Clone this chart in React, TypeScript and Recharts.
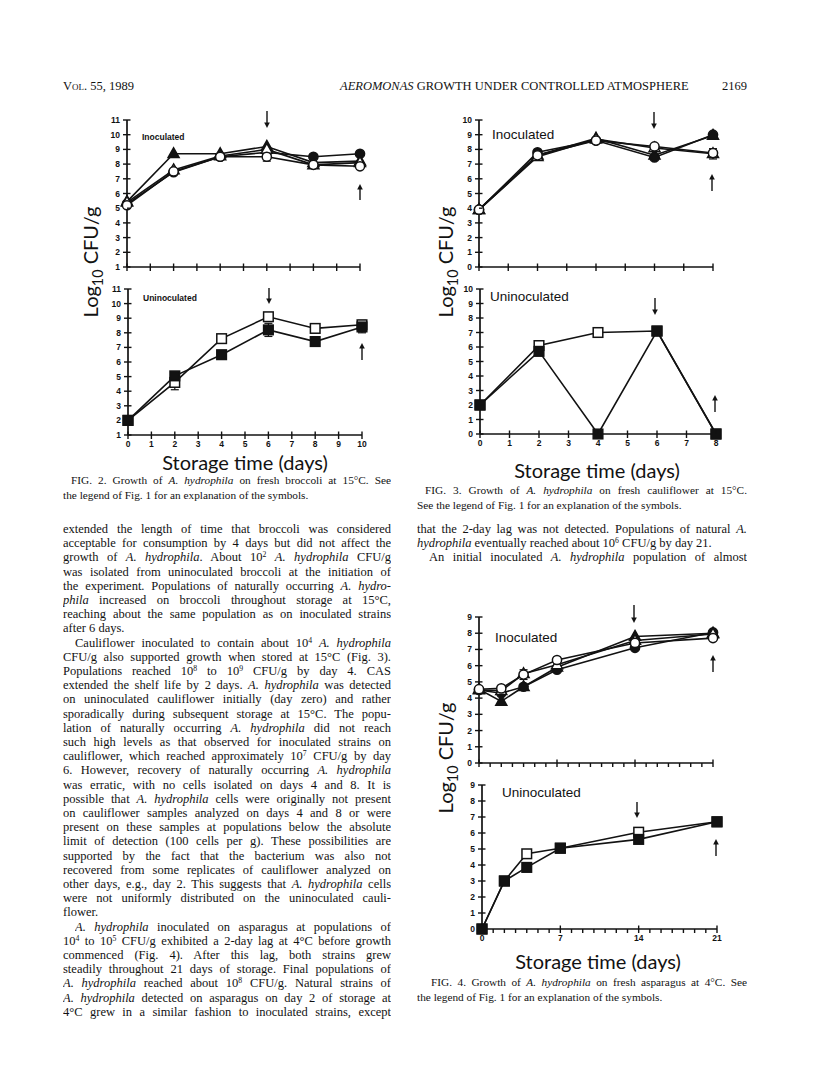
import React from 'react';
import { LineChart, Line, XAxis, YAxis, ErrorBar } from 'recharts';

// Fig. 2 broccoli, 15°C
const broccoliDays = [0, 2, 4, 6, 8, 10];
const broccoliFilledCircle = [5.3, 7.45, 8.5, 8.8, 8.5, 8.7];
const broccoliOpenCircle = [5.2, 7.5, 8.5, 8.5, 7.95, 7.85];
const broccoliOpenCircleErr = [0, 0, 0, 0.3, 0, 0];
const broccoliFilledTriangle = [5.45, 8.7, 8.7, 9.2, 8.1, 8.2];
const broccoliOpenTriangle = [5.4, 7.6, 8.55, 9.0, 7.95, 8.1];
const broccoliOpenSquare = [2.0, 4.6, 7.6, 9.1, 8.3, 8.55];
const broccoliOpenSquareErr = [0, 0.5, 0, 0, 0, 0.3];
const broccoliFilledSquare = [2.0, 5.05, 6.5, 8.2, 7.4, 8.4];
const broccoliFilledSquareErr = [0, 0, 0, 0.45, 0, 0.4];

// Fig. 3 cauliflower, 15°C
const cauliDays = [0, 2, 4, 6, 8];
const cauliFilledCircle = [3.9, 7.8, 8.6, 7.45, 9.0];
const cauliOpenCircle = [3.9, 7.6, 8.6, 8.2, 7.75];
const cauliFilledTriangle = [3.9, 7.6, 8.75, 7.6, 8.95];
const cauliOpenTriangle = [3.9, 7.5, 8.7, 8.1, 7.7];
const cauliOpenTriangleErr = [0, 0, 0, 0, 0.35];
const cauliOpenSquare = [2.0, 6.1, 7.0, 7.1, 0];
const cauliFilledSquare = [2.0, 5.7, 0, 7.1, 0];
const cauliFilledSquareErr = [0, 0.3, 0, 0, 0];

// Fig. 4 asparagus, 4°C
const asparDays = [0, 2, 4, 7, 14, 21];
const asparFilledTriangle = [4.55, 3.8, 4.7, 5.9, 7.8, 8.0];
const asparFilledCircle = [4.5, 4.3, 4.7, 5.75, 7.1, 8.05];
const asparOpenCircle = [4.55, 4.6, 5.45, 6.35, 7.4, 7.7];
const asparOpenCircleErr = [0, 0, 0.3, 0, 0, 0];
const asparOpenTriangle = [4.5, 4.45, 5.5, 6.05, 7.55, 7.95];
const asparOpenSquare = [0, 3.0, 4.7, 5.05, 6.05, 6.7];
const asparFilledSquare = [0, 3.0, 3.85, 5.05, 5.6, 6.7];
const asparFilledSquareErr = [0, 0, 0, 0, 0, 0.2];

const ticks2x = [0, 1, 2, 3, 4, 5, 6, 7, 8, 9, 10];
const ticks2y = [1, 2, 3, 4, 5, 6, 7, 8, 9, 10, 11];
const ticks3x = [0, 1, 2, 3, 4, 5, 6, 7, 8];
const ticks3y = [0, 1, 2, 3, 4, 5, 6, 7, 8, 9, 10];
const ticks4x = Array.from({ length: 22 }, (_, i) => i);
const ticks4y = [0, 1, 2, 3, 4, 5, 6, 7, 8, 9];
const ticks4major = [0, 7, 14, 21];

const ink = '#121212';
const serif = '"Liberation Serif", "Times New Roman", serif';
const sans = '"Liberation Sans", Arial, sans-serif';
const gothic = 'Lato, "Open Sans", sans-serif';

type Shape = 'circle' | 'triangle' | 'square';
interface SeriesDef { key: string; shape: Shape; filled: boolean; err?: string }

const rows = (days: number[], cols: Record<string, number[]>) =>
  days.map((d, i) => {
    const r: Record<string, number> = { day: d };
    Object.keys(cols).forEach(k => { r[k] = cols[k][i]; });
    return r;
  });

const makeDot = (id: string, shape: Shape, filled: boolean) => (props: any) => {
  const { cx, cy, index } = props;
  const key = `${id}-${index}`;
  if (cx == null || cy == null) return <g key={key} />;
  const fill = filled ? ink : '#fff';
  if (shape === 'circle') return <circle key={key} cx={cx} cy={cy} r={4.6} fill={fill} stroke={ink} strokeWidth={1.5} />;
  if (shape === 'square') return <rect key={key} x={cx - 4.8} y={cy - 4.8} width={9.6} height={9.6} fill={fill} stroke={ink} strokeWidth={1.5} />;
  return <path key={key} d={`M${cx},${cy - 6} L${cx + 5.5},${cy + 3.8} L${cx - 5.5},${cy + 3.8} Z`} fill={fill} stroke={ink} strokeWidth={1.5} />;
};

const YW = 30;
const MT = 8;
const MR = 14;
const XH = 18;
const TS = 4;
const TM_Y = 3;
const TM_X = 1;
const tickText = { fontSize: 8.5, fontWeight: 700, fill: ink, fontFamily: sans };

// y tick: label plus a short inner stub so the mark crosses the axis
const YTick = (props: any) => {
  const { x, y, payload } = props;
  const ax = x + TS + TM_Y;
  return (
    <g>
      <line x1={ax} x2={ax + 3.5} y1={y} y2={y} stroke={ink} strokeWidth={1.4} />
      <text x={x} y={y} dy={3} textAnchor="end" {...tickText}>{payload.value}</text>
    </g>
  );
};

const makeXTick = (labels: number[] | null, majors: number[] | null) => (props: any) => {
  const { x, y, payload } = props;
  const ay = y - TS - TM_X;
  const v = payload.value as number;
  const inner = !majors || majors.includes(v);
  return (
    <g>
      {inner ? <line x1={x} x2={x} y1={ay} y2={ay - 3.5} stroke={ink} strokeWidth={1.4} /> : null}
      {labels && labels.includes(v)
        ? <text x={x} y={y} dy={7} textAnchor="middle" {...tickText}>{v}</text>
        : null}
    </g>
  );
};

interface PanelProps {
  id: string;
  left: number; top: number; plotW: number; plotH: number;
  data: any[]; series: SeriesDef[];
  xMax: number; xTicks: number[]; xLabels: number[] | null; xMajors?: number[];
  yMin: number; yMax: number; yTicks: number[];
}

function Panel(p: PanelProps) {
  const W = YW + p.plotW + MR;
  const H = MT + p.plotH + XH;
  return (
    <div style={{ position: 'absolute', left: p.left - YW, top: p.top - MT }}>
      <LineChart width={W} height={H} data={p.data} margin={{ top: MT, right: MR, left: 0, bottom: 0 }}>
        <XAxis
          type="number"
          dataKey="day"
          domain={[0, p.xMax]}
          ticks={p.xTicks}
          interval={0}
          height={XH}
          tickSize={TS}
          tickMargin={TM_X}
          tick={makeXTick(p.xLabels, p.xMajors || null)}
          axisLine={{ stroke: ink, strokeWidth: 1.7 }}
          tickLine={{ stroke: ink, strokeWidth: 1.4 }}
        />
        <YAxis
          type="number"
          domain={[p.yMin, p.yMax]}
          ticks={p.yTicks}
          interval={0}
          width={YW}
          tickSize={TS}
          tickMargin={TM_Y}
          tick={YTick}
          axisLine={{ stroke: ink, strokeWidth: 1.7 }}
          tickLine={{ stroke: ink, strokeWidth: 1.4 }}
        />
        {p.series.map(s => (
          <Line
            key={s.key}
            dataKey={s.key}
            stroke={ink}
            strokeWidth={1.6}
            dot={makeDot(`${p.id}-${s.key}`, s.shape, s.filled)}
            activeDot={false}
            isAnimationActive={false}
          >
            {s.err ? <ErrorBar dataKey={s.err} width={4} stroke={ink} strokeWidth={1.2} direction="y" /> : null}
          </Line>
        ))}
      </LineChart>
    </div>
  );
}

function Arrow({ x, y1, y2, up }: { x: number; y1: number; y2: number; up?: boolean }) {
  const w = 8;
  const h = y2 - y1;
  const c = w / 2;
  return (
    <svg style={{ position: 'absolute', left: x - c, top: y1 }} width={w} height={h}>
      <line x1={c} x2={c} y1={up ? 3 : 0} y2={up ? h : h - 3} stroke={ink} strokeWidth={1.4} />
      {up
        ? <path d={`M${c - 2.8},5.5 L${c},0 L${c + 2.8},5.5 Z`} fill={ink} />
        : <path d={`M${c - 2.8},${h - 5.5} L${c},${h} L${c + 2.8},${h - 5.5} Z`} fill={ink} />}
    </svg>
  );
}

function YLabel({ cx, cy }: { cx: number; cy: number }) {
  return (
    <div style={{
      position: 'absolute', left: cx, top: cy, transform: 'translate(-50%,-50%) rotate(-90deg)',
      whiteSpace: 'nowrap', fontFamily: gothic, fontSize: 20, lineHeight: '22px', color: ink,
    }}>
      Log<sub style={{ fontSize: '0.72em', lineHeight: 0 }}>10</sub> CFU/g
    </div>
  );
}

function Label({ x, y, text, size, bold, center, font }: { x: number; y: number; text: string; size: number; bold?: boolean; center?: boolean; font?: string }) {
  return (
    <div style={{
      position: 'absolute', left: x, top: y, transform: center ? 'translate(-50%,-50%)' : 'translateY(-50%)',
      whiteSpace: 'nowrap', fontFamily: font || sans, fontSize: size, fontWeight: bold ? 700 : 400, color: ink, lineHeight: 1,
    }}>{text}</div>
  );
}

const I = ({ children }: { children: React.ReactNode }) => <i>{children}</i>;
const Sup = ({ children }: { children: React.ReactNode }) => (
  <sup style={{ fontSize: '0.62em', verticalAlign: '0.55em', lineHeight: 0 }}>{children}</sup>
);
const Ah = () => <I>A. hydrophila</I>;

function TextLine({ x, y, w, children, last, indent, size = 12.5 }: { x: number; y: number; w: number; children: React.ReactNode; last?: boolean; indent?: number; size?: number }) {
  return (
    <div style={{
      position: 'absolute', left: x + (indent || 0), top: y - 8, width: w - (indent || 0), height: 16,
      fontFamily: serif, fontSize: size, lineHeight: '16px', color: ink,
      textAlign: last ? 'left' : 'justify', textAlignLast: last ? 'left' : 'justify', overflow: 'hidden',
    }}>{children}</div>
  );
}

const leftLines: { c: React.ReactNode; last?: boolean; indent?: boolean }[] = [
  { c: <>extended the length of time that broccoli was considered</> },
  { c: <>acceptable for consumption by 4 days but did not affect the</> },
  { c: <>growth of <Ah />. About 10<Sup>2</Sup> <Ah /> CFU/g</> },
  { c: <>was isolated from uninoculated broccoli at the initiation of</> },
  { c: <>the experiment. Populations of naturally occurring <I>A. hydro-</I></> },
  { c: <><I>phila</I> increased on broccoli throughout storage at 15°C,</> },
  { c: <>reaching about the same population as on inoculated strains</> },
  { c: <>after 6 days.</>, last: true },
  { c: <>Cauliflower inoculated to contain about 10<Sup>4</Sup> <Ah /></>, indent: true },
  { c: <>CFU/g also supported growth when stored at 15°C (Fig. 3).</> },
  { c: <>Populations reached 10<Sup>8</Sup> to 10<Sup>9</Sup> CFU/g by day 4. CAS</> },
  { c: <>extended the shelf life by 2 days. <Ah /> was detected</> },
  { c: <>on uninoculated cauliflower initially (day zero) and rather</> },
  { c: <>sporadically during subsequent storage at 15°C. The popu-</> },
  { c: <>lation of naturally occurring <Ah /> did not reach</> },
  { c: <>such high levels as that observed for inoculated strains on</> },
  { c: <>cauliflower, which reached approximately 10<Sup>7</Sup> CFU/g by day</> },
  { c: <>6. However, recovery of naturally occurring <Ah /></> },
  { c: <>was erratic, with no cells isolated on days 4 and 8. It is</> },
  { c: <>possible that <Ah /> cells were originally not present</> },
  { c: <>on cauliflower samples analyzed on days 4 and 8 or were</> },
  { c: <>present on these samples at populations below the absolute</> },
  { c: <>limit of detection (100 cells per g). These possibilities are</> },
  { c: <>supported by the fact that the bacterium was also not</> },
  { c: <>recovered from some replicates of cauliflower analyzed on</> },
  { c: <>other days, e.g., day 2. This suggests that <Ah /> cells</> },
  { c: <>were not uniformly distributed on the uninoculated cauli-</> },
  { c: <>flower.</>, last: true },
  { c: <><Ah /> inoculated on asparagus at populations of</>, indent: true },
  { c: <>10<Sup>4</Sup> to 10<Sup>5</Sup> CFU/g exhibited a 2-day lag at 4°C before growth</> },
  { c: <>commenced (Fig. 4). After this lag, both strains grew</> },
  { c: <>steadily throughout 21 days of storage. Final populations of</> },
  { c: <><Ah /> reached about 10<Sup>8</Sup> CFU/g. Natural strains of</> },
  { c: <><Ah /> detected on asparagus on day 2 of storage at</> },
  { c: <>4°C grew in a similar fashion to inoculated strains, except</> },
];

const rightLines: { c: React.ReactNode; last?: boolean; indent?: boolean }[] = [
  { c: <>that the 2-day lag was not detected. Populations of natural <I>A.</I></> },
  { c: <><I>hydrophila</I> eventually reached about 10<Sup>6</Sup> CFU/g by day 21.</>, last: true },
  { c: <>An initial inoculated <Ah /> population of almost</>, indent: true },
];

const LX = 63;
const LW = 328;
const RX = 417;
const RW = 330;
const BODY_Y = 529;
const LH = 14.2;

const s4 = (fc: string, oc: string, ft: string, ot: string, errs: Record<string, string> = {}): SeriesDef[] => [
  { key: ft, shape: 'triangle', filled: true, err: errs[ft] },
  { key: fc, shape: 'circle', filled: true, err: errs[fc] },
  { key: ot, shape: 'triangle', filled: false, err: errs[ot] },
  { key: oc, shape: 'circle', filled: false, err: errs[oc] },
];
const s2 = (os: string, fs: string, errs: Record<string, string> = {}): SeriesDef[] => [
  { key: os, shape: 'square', filled: false, err: errs[os] },
  { key: fs, shape: 'square', filled: true, err: errs[fs] },
];

export default function App() {
  const broccoliTop = rows(broccoliDays, { fc: broccoliFilledCircle, oc: broccoliOpenCircle, ocErr: broccoliOpenCircleErr, ft: broccoliFilledTriangle, ot: broccoliOpenTriangle });
  const broccoliBottom = rows(broccoliDays, { os: broccoliOpenSquare, osErr: broccoliOpenSquareErr, fs: broccoliFilledSquare, fsErr: broccoliFilledSquareErr });
  const cauliTop = rows(cauliDays, { fc: cauliFilledCircle, oc: cauliOpenCircle, ft: cauliFilledTriangle, ot: cauliOpenTriangle, otErr: cauliOpenTriangleErr });
  const cauliBottom = rows(cauliDays, { os: cauliOpenSquare, fs: cauliFilledSquare, fsErr: cauliFilledSquareErr });
  const asparTop = rows(asparDays, { fc: asparFilledCircle, oc: asparOpenCircle, ocErr: asparOpenCircleErr, ft: asparFilledTriangle, ot: asparOpenTriangle });
  const asparBottom = rows(asparDays, { os: asparOpenSquare, fs: asparFilledSquare, fsErr: asparFilledSquareErr });

  return (
    <div style={{ position: 'relative', width: 816, height: 1073, margin: -8, background: '#fff', overflow: 'hidden' }}>
      {/* running head */}
      <div style={{ position: 'absolute', left: LX, top: 79, fontFamily: serif, fontSize: 12.5, color: ink, fontVariant: 'small-caps', whiteSpace: 'nowrap' }}>Vol. 55, 1989</div>
      <div style={{ position: 'absolute', left: 340, top: 79, fontFamily: serif, fontSize: 12.5, color: ink, whiteSpace: 'nowrap' }}>
        <I>AEROMONAS</I> GROWTH UNDER CONTROLLED ATMOSPHERE
      </div>
      <div style={{ position: 'absolute', left: 717, top: 79, width: RX + RW - 717, textAlign: 'right', fontFamily: serif, fontSize: 12.5, color: ink }}>2169</div>

      {/* Fig. 2 */}
      <Panel id="b1" left={127} top={120} plotW={233} plotH={147} data={broccoliTop}
        series={s4('fc', 'oc', 'ft', 'ot', { oc: 'ocErr' })}
        xMax={10} xTicks={ticks2x} xLabels={null} yMin={1} yMax={11} yTicks={ticks2y} />
      <Panel id="b2" left={128} top={289} plotW={234} plotH={146} data={broccoliBottom}
        series={s2('os', 'fs', { os: 'osErr', fs: 'fsErr' })}
        xMax={10} xTicks={ticks2x} xLabels={ticks2x} yMin={1} yMax={11} yTicks={ticks2y} />
      <Label x={142} y={137} text="Inoculated" size={8.5} bold />
      <Label x={143} y={298} text="Uninoculated" size={8.5} bold />
      <Arrow x={267} y1={111} y2={128} />
      <Arrow x={360} y1={184} y2={200} up />
      <Arrow x={269} y1={288} y2={304} />
      <Arrow x={362} y1={343} y2={360} up />
      <YLabel cx={90} cy={262} />
      <Label x={245} y={462} text="Storage time (days)" size={20} center font={gothic} />
      <TextLine x={LX} y={480} w={LW} indent={8} size={11.3}>
        FIG. 2. Growth of <Ah /> on fresh broccoli at 15°C. See
      </TextLine>
      <TextLine x={LX} y={495} w={LW} last size={11.3}>the legend of Fig. 1 for an explanation of the symbols.</TextLine>

      {/* Fig. 3 */}
      <Panel id="c1" left={479} top={120} plotW={234} plotH={147} data={cauliTop}
        series={s4('fc', 'oc', 'ft', 'ot', { ot: 'otErr' })}
        xMax={8} xTicks={ticks3x} xLabels={null} yMin={0} yMax={10} yTicks={ticks3y} />
      <Panel id="c2" left={480} top={289} plotW={236} plotH={145} data={cauliBottom}
        series={s2('os', 'fs', { fs: 'fsErr' })}
        xMax={8} xTicks={ticks3x} xLabels={ticks3x} yMin={0} yMax={10} yTicks={ticks3y} />
      <Label x={492} y={135} text="Inoculated" size={13.5} />
      <Label x={490} y={297} text="Uninoculated" size={13.5} />
      <Arrow x={654} y1={112} y2={129} />
      <Arrow x={712} y1={174} y2={191} up />
      <Arrow x={655} y1={298} y2={315} />
      <Arrow x={715} y1={395} y2={412} up />
      <YLabel cx={445} cy={262} />
      <Label x={597} y={470} text="Storage time (days)" size={20} center font={gothic} />
      <TextLine x={RX} y={490} w={RW} indent={8} size={11.3}>
        FIG. 3. Growth of <Ah /> on fresh cauliflower at 15°C.
      </TextLine>
      <TextLine x={RX} y={505} w={RW} last size={11.3}>See the legend of Fig. 1 for an explanation of the symbols.</TextLine>

      {/* body text */}
      {leftLines.map((l, i) => (
        <TextLine key={`l${i}`} x={LX} y={BODY_Y + i * LH} w={LW} last={l.last} indent={l.indent ? 12 : 0}>{l.c}</TextLine>
      ))}
      {rightLines.map((l, i) => (
        <TextLine key={`r${i}`} x={RX} y={BODY_Y + i * LH} w={RW} last={l.last} indent={l.indent ? 12 : 0}>{l.c}</TextLine>
      ))}

      {/* Fig. 4 */}
      <Panel id="a1" left={479} top={617} plotW={234} plotH={146} data={asparTop}
        series={s4('fc', 'oc', 'ft', 'ot', { oc: 'ocErr' })}
        xMax={21} xTicks={ticks4x} xLabels={null} xMajors={ticks4major} yMin={0} yMax={9} yTicks={ticks4y} />
      <Panel id="a2" left={482} top={785} plotW={235} plotH={144} data={asparBottom}
        series={s2('os', 'fs', { fs: 'fsErr' })}
        xMax={21} xTicks={ticks4x} xLabels={ticks4major} xMajors={ticks4major} yMin={0} yMax={9} yTicks={ticks4y} />
      <Label x={495} y={638} text="Inoculated" size={13.5} />
      <Label x={502} y={793} text="Uninoculated" size={13.5} />
      <Arrow x={634} y1={605} y2={623} />
      <Arrow x={713} y1={655} y2={672} up />
      <Arrow x={637} y1={802} y2={818} />
      <Arrow x={716} y1={839} y2={856} up />
      <YLabel cx={445} cy={758} />
      <Label x={598} y={961} text="Storage time (days)" size={20} center font={gothic} />
      <TextLine x={RX} y={982} w={RW} indent={14} size={11.3}>
        FIG. 4. Growth of <Ah /> on fresh asparagus at 4°C. See
      </TextLine>
      <TextLine x={RX} y={997} w={RW} last size={11.3}>the legend of Fig. 1 for an explanation of the symbols.</TextLine>
    </div>
  );
}
